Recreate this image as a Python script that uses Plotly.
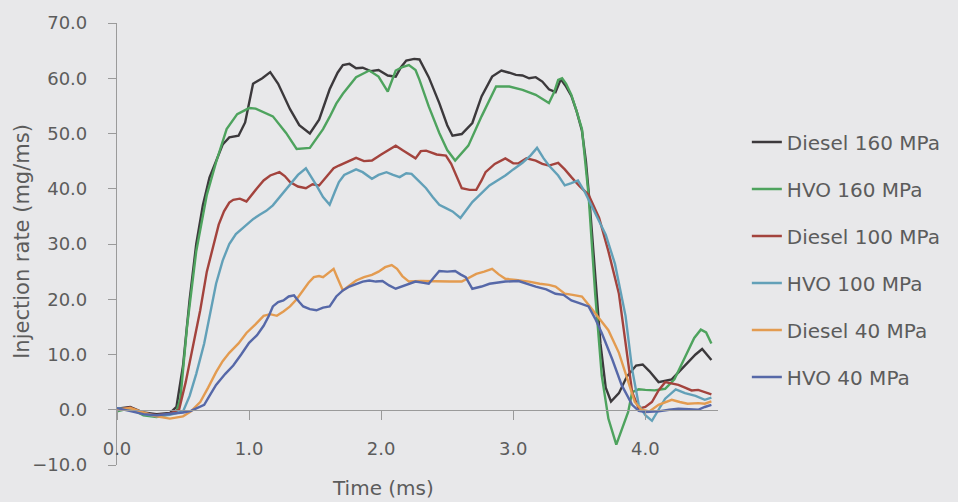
import plotly.graph_objects as go

# ---------------- data ----------------
series_names = ["Diesel 160 MPa", "HVO 160 MPa", "Diesel 100 MPa",
                "HVO 100 MPa", "Diesel 40 MPa", "HVO 40 MPa"]

t_diesel160 = [0, 0.1, 0.2, 0.3, 0.4, 0.45, 0.5, 0.55, 0.6, 0.65, 0.7, 0.75, 0.8, 0.85, 0.92, 0.97,
               1.03, 1.1, 1.16, 1.22, 1.31, 1.38, 1.46, 1.53, 1.61, 1.67, 1.71, 1.76, 1.81, 1.86, 1.92,
               1.98, 2.05, 2.11, 2.15, 2.19, 2.25, 2.29, 2.33, 2.36, 2.44, 2.5, 2.54, 2.61, 2.69, 2.76,
               2.84, 2.91, 2.97, 3.02, 3.07, 3.12, 3.17, 3.22, 3.27, 3.32, 3.36, 3.4, 3.44, 3.48, 3.52,
               3.55, 3.58, 3.62, 3.66, 3.7, 3.74, 3.8, 3.86, 3.93, 3.98, 4.03, 4.1, 4.2, 4.3, 4.38,
               4.43, 4.5]
v_diesel160 = [0.2, 0.5, -0.5, -0.8, -0.6, 0.5, 8, 20, 30, 37, 42, 45, 48, 49.3, 49.6, 52,
               59, 60, 61.1, 59, 54.4, 51.5, 50, 52.5, 58, 61, 62.4, 62.6, 61.8, 61.9, 61.3,
               61.5, 60.5, 60.3, 62, 63.2, 63.5, 63.4, 61.5, 60.2, 55.5, 51.5, 49.6, 49.9, 51.9, 56.7,
               60.3, 61.4, 61, 60.6, 60.5, 60, 60.2, 59.4, 58, 57.5, 59.8, 58.5, 56.8, 54, 50.5,
               45, 37, 24, 12, 4, 1.5, 3, 6, 8, 8.2, 7, 5, 5.5, 8, 10,
               11, 9]

t_hvo160 = [0, 0.1, 0.2, 0.3, 0.4, 0.45, 0.48, 0.53, 0.6, 0.68, 0.75, 0.83, 0.91, 1.0, 1.05, 1.1,
            1.18, 1.28, 1.36, 1.46, 1.56, 1.61, 1.66, 1.71, 1.81, 1.91, 1.98, 2.05, 2.11, 2.16, 2.21,
            2.26, 2.29, 2.36, 2.44, 2.5, 2.56, 2.66, 2.76, 2.87, 2.97, 3.07, 3.17, 3.27, 3.31, 3.34,
            3.37, 3.4, 3.44, 3.48, 3.52, 3.57, 3.62, 3.67, 3.72, 3.78, 3.84, 3.87, 3.9, 3.95, 4.0,
            4.07, 4.15, 4.22, 4.3, 4.37, 4.42, 4.46, 4.5]
v_hvo160 = [-0.3, 0.3, -1, -1.3, -0.8, -0.3, 2, 15, 28.7, 38.9, 44.8, 50.8, 53.5, 54.6, 54.5, 54,
            53.1, 50.1, 47.2, 47.4, 50.8, 53, 55.4, 57.2, 60.2, 61.4, 60.3, 57.6, 61.4, 62, 62.4,
            61.5, 59.7, 54.9, 50.1, 47, 45.1, 47.8, 53.1, 58.5, 58.5, 57.9, 57, 55.5, 57.5, 59.7,
            60, 59, 57, 54, 50.8, 38.9, 21, 6.2, -1.6, -6.3, -2.5, -0.4, 3.2, 3.7, 3.6,
            3.5, 3.8, 5.5, 9.5, 13, 14.5, 14, 12]

t_diesel100 = [0, 0.1, 0.2, 0.3, 0.4, 0.47, 0.52, 0.58, 0.63, 0.68, 0.73, 0.77, 0.81, 0.85, 0.88,
               0.93, 0.98, 1.02, 1.06, 1.11, 1.16, 1.23, 1.27, 1.31, 1.37, 1.43, 1.48, 1.53, 1.58,
               1.64, 1.68, 1.74, 1.81, 1.87, 1.93, 2.0, 2.05, 2.11, 2.16, 2.21, 2.26, 2.3, 2.34,
               2.42, 2.49, 2.53, 2.57, 2.61, 2.67, 2.72, 2.76, 2.79, 2.86, 2.94, 3.0, 3.04, 3.1,
               3.17, 3.22, 3.27, 3.34, 3.39, 3.44, 3.5, 3.57, 3.65, 3.72, 3.8, 3.85, 3.9, 3.95,
               4.0, 4.05, 4.1, 4.15, 4.2, 4.25, 4.3, 4.35, 4.4, 4.45, 4.5]
v_diesel100 = [0, 0.4, -0.6, -1, -0.7, 0, 5, 12, 18, 25, 30, 33.5, 35.9, 37.5, 38,
               38.2, 37.7, 39, 40.1, 41.5, 42.4, 43, 42.3, 41.2, 40.4, 40.1, 40.8, 40.6, 42,
               43.7, 44.2, 44.8, 45.6, 45, 45.1, 46.2, 47, 47.8, 47, 46.2, 45.5, 46.8, 46.9,
               46.2, 46, 44.5, 42.4, 40.1, 39.8, 39.8, 41.5, 43, 44.5, 45.5, 44.6, 44.6, 45.5,
               45.1, 44.5, 44.2, 44.7, 43.5, 42.1, 40.5, 38.9, 34.7, 28.7, 21, 12.1, 3.2, 0.2,
               0.5, 1.4, 3.5, 5, 4.8, 4.5, 4, 3.5, 3.6, 3.2, 2.8]

t_hvo100 = [0, 0.1, 0.2, 0.3, 0.4, 0.5, 0.55, 0.6, 0.66, 0.7, 0.75, 0.8, 0.85, 0.9, 0.98, 1.03,
            1.08, 1.13, 1.18, 1.25, 1.31, 1.37, 1.43, 1.47, 1.51, 1.56, 1.61, 1.65, 1.68, 1.72,
            1.76, 1.81, 1.86, 1.93, 1.98, 2.04, 2.09, 2.14, 2.19, 2.23, 2.28, 2.34, 2.39, 2.44,
            2.49, 2.54, 2.6, 2.64, 2.69, 2.76, 2.82, 2.88, 2.94, 3.0, 3.07, 3.13, 3.18, 3.23,
            3.27, 3.34, 3.39, 3.44, 3.49, 3.54, 3.59, 3.65, 3.7, 3.77, 3.85, 3.9, 3.95, 4.0,
            4.05, 4.1, 4.15, 4.23, 4.3, 4.38, 4.45, 4.5]
v_hvo100 = [0.3, 0, -0.8, -1.2, -0.9, -0.3, 2.5, 6.5, 12, 17, 22.8, 27, 30, 31.8, 33.5, 34.5,
            35.3, 36, 37, 39, 40.6, 42.5, 43.7, 42.2, 40.6, 38.5, 37.1, 39.5, 41.2, 42.5,
            43, 43.5, 43, 41.8, 42.5, 43, 42.5, 42.1, 42.8, 42.7, 41.5, 40.1, 38.5, 37.1,
            36.5, 35.9, 34.7, 36, 37.6, 39.2, 40.6, 41.5, 42.4, 43.5, 44.7, 46, 47.4, 45.5,
            44.2, 42.4, 40.6, 41, 41.5, 39.5, 37, 34, 31.7, 26.4, 17, 7.3, 0.9, -1,
            -2, 0, 2, 3.7, 3, 2.5, 1.8, 2.2]

t_diesel40 = [0, 0.1, 0.2, 0.3, 0.4, 0.5, 0.56, 0.63, 0.69, 0.75, 0.8, 0.85, 0.92, 0.98, 1.05,
              1.11, 1.16, 1.21, 1.26, 1.31, 1.36, 1.41, 1.45, 1.49, 1.53, 1.56, 1.6, 1.64, 1.67,
              1.71, 1.76, 1.81, 1.87, 1.93, 1.98, 2.03, 2.08, 2.12, 2.16, 2.21, 2.3, 2.42, 2.52,
              2.61, 2.67, 2.72, 2.78, 2.84, 2.89, 2.94, 3.02, 3.12, 3.2, 3.27, 3.32, 3.39, 3.45,
              3.52, 3.57, 3.62, 3.67, 3.72, 3.8, 3.87, 3.92, 3.97, 4.03, 4.1, 4.2, 4.26, 4.32,
              4.4, 4.45, 4.5]
v_diesel40 = [0, 0.3, -0.5, -1.2, -1.6, -1.2, -0.3, 1.4, 4, 6.8, 8.8, 10.3, 12, 13.9, 15.5,
              17, 17.3, 17, 17.8, 18.7, 20, 21.6, 23, 24, 24.2, 24, 24.8, 25.5, 23.8,
              21.6, 22.5, 23.4, 24, 24.4, 25, 25.8, 26.2, 25.5, 24.2, 23.2, 23.3, 23.2, 23.2,
              23.2, 24, 24.6, 25, 25.5, 24.5, 23.7, 23.5, 23.2, 22.8, 22.6, 22.3, 21, 20.8,
              20.5, 19, 17.5, 16, 14.4, 10.3, 5, 1.4, 0, -0.3, 0.9, 1.8, 1.4, 1.1,
              1.2, 1.1, 1.5]

t_hvo40 = [0, 0.1, 0.2, 0.3, 0.4, 0.5, 0.56, 0.62, 0.66, 0.7, 0.75, 0.82, 0.88, 0.94, 1.0, 1.06,
           1.11, 1.15, 1.18, 1.22, 1.26, 1.3, 1.34, 1.38, 1.41, 1.46, 1.51, 1.56, 1.61, 1.66,
           1.71, 1.76, 1.81, 1.86, 1.91, 1.96, 2.01, 2.06, 2.11, 2.18, 2.26, 2.31, 2.36, 2.4,
           2.44, 2.5, 2.56, 2.6, 2.64, 2.69, 2.76, 2.82, 2.88, 2.94, 3.04, 3.1, 3.17, 3.25,
           3.32, 3.38, 3.44, 3.5, 3.57, 3.62, 3.67, 3.75, 3.82, 3.9, 3.95, 4.0, 4.1, 4.18,
           4.25, 4.33, 4.4, 4.45, 4.5]
v_hvo40 = [0.3, -0.2, -0.8, -1, -0.8, -0.5, -0.2, 0.5, 0.9, 2.5, 4.5, 6.5, 8, 10, 12.1, 13.5,
           15.2, 17, 18.7, 19.5, 19.8, 20.5, 20.7, 19.5, 18.7, 18.2, 18, 18.5, 18.7, 20.5,
           21.6, 22.3, 22.8, 23.2, 23.4, 23.2, 23.3, 22.5, 21.9, 22.5, 23.2, 23, 22.8, 24,
           25.1, 25, 25.1, 24.5, 24, 21.9, 22.3, 22.8, 23, 23.2, 23.3, 22.8, 22.3, 21.8,
           21, 20.8, 19.8, 19.3, 18.7, 16.5, 13.9, 9.1, 4.5, 0.9, -0.2, -0.4, -0.3, 0,
           0.2, 0.1, 0, 0.5, 0.9]

x_tick_values = [0, 1, 2, 3, 4]
y_tick_values = [-10, 0, 10, 20, 30, 40, 50, 60, 70]

times = [t_diesel160, t_hvo160, t_diesel100, t_hvo100, t_diesel40, t_hvo40]
values = [v_diesel160, v_hvo160, v_diesel100, v_hvo100, v_diesel40, v_hvo40]

# ---------------- styling ----------------
colors = ["#3c393c", "#4ea35e", "#a3433d", "#62a0b8", "#e39b50", "#5668a8"]
bg = "#e8e8ea"
txt = "#5c5c5c"
font_family = "DejaVu Sans"

fig = go.Figure()
for i, (name, t, v) in enumerate(zip(series_names, times, values)):
    fig.add_trace(go.Scatter(
        x=t, y=v, name=name, mode="lines",
        line=dict(color=colors[i], width=2.4),
        legendgroup=f"g{i}",
    ))

fig.update_layout(
    width=958, height=502,
    margin=dict(l=117, r=238, t=16, b=37),
    paper_bgcolor=bg, plot_bgcolor=bg,
    font=dict(family=font_family, color=txt, size=18),
    showlegend=True,
    legend=dict(
        x=1.048, xanchor="left", y=0.775, yanchor="top",
        bgcolor="rgba(0,0,0,0)", font=dict(size=20, color=txt),
        tracegroupgap=18, itemwidth=30,
    ),
    xaxis=dict(
        range=[0, 4.55], tickvals=x_tick_values, tickformat=".1f",
        showgrid=False, zeroline=False,
        anchor="free", position=0.125,
        showline=True, linecolor="#9a9a9a", linewidth=1.2,
        ticks="outside", ticklen=9, tickcolor="#9a9a9a",
        ticklabelstandoff=14,
        tickfont=dict(size=18, color=txt),
    ),
    yaxis=dict(
        range=[-10, 70], tickvals=y_tick_values, tickformat=".1f",
        showgrid=False, zeroline=False,
        showline=True, linecolor="#9a9a9a", linewidth=1.2,
        ticks="outside", ticklen=8, tickcolor="#9a9a9a",
        ticklabelstandoff=17,
        tickfont=dict(size=18, color=txt),
    ),
    annotations=[
        dict(text="Injection rate (mg/ms)", xref="paper", yref="paper",
             x=-0.158, y=0.505, xanchor="center", yanchor="middle",
             textangle=-90, showarrow=False, font=dict(size=21, color=txt)),
        dict(text="Time (ms)", xref="paper", yref="paper",
             x=0.443, y=-0.051, xanchor="center", yanchor="middle",
             showarrow=False, font=dict(size=20, color=txt)),
    ],
)

fig.write_html("out.html",
               config={"displayModeBar": False},
               post_script="document.body.style.margin='0';document.body.style.overflow='hidden';")
